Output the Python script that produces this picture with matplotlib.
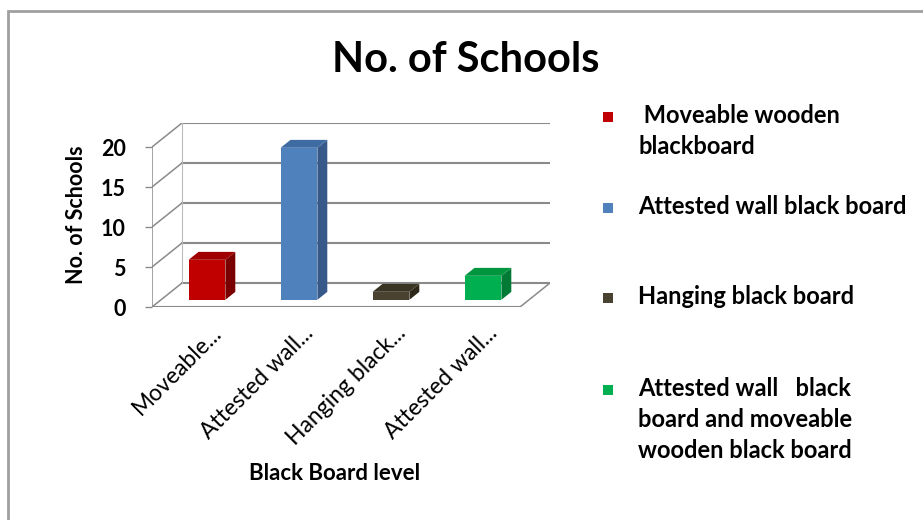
import matplotlib
matplotlib.use("Agg")
import matplotlib.pyplot as plt
from matplotlib.patches import Polygon, Rectangle

plt.rcParams['font.family'] = ['Lato', 'DejaVu Sans']

# data
categories = ["Moveable...", "Attested wall...", "Hanging black...", "Attested wall..."]
legend_labels = [" Moveable wooden\nblackboard",
                 "Attested wall black board",
                 "Hanging black board",
                 "Attested wall   black\nboard and moveable\nwooden black board"]
values = [5, 19, 1, 3]
yticks = [0, 5, 10, 15, 20]

front_colors = ["#C00000", "#4F81BD", "#4A4230", "#00B050"]
side_colors = ["#7A0000", "#36598A", "#2C2719", "#007A35"]
top_colors = ["#A00000", "#3F6BA3", "#3A3424", "#00953F"]

W, H = 923, 520
fig = plt.figure(figsize=(W / 100, H / 100), dpi=100)


def fx(px):
    return px / W


def fy(py):
    return 1 - py / H


# pseudo 3-D: depth offset in data units
DX, DY = 0.326, 3.0
x_lo, x_hi = -0.5, 3.5
y_top = 20


def proj(x, y, d):
    return (x + d * DX, y + d * DY)


ax_left, ax_right, ax_top, ax_bot = 152, 550, 123, 307
ax = fig.add_axes([fx(ax_left), fy(ax_bot), fx(ax_right - ax_left),
                   (ax_bot - ax_top) / H])
ax.set_xlim(x_lo, x_hi + DX)
ax.set_ylim(0, y_top + DY)
for s in ax.spines.values():
    s.set_visible(False)

grid_c = "#8A8A8A"
# back wall gridlines and side wall diagonals
for v in yticks:
    bx0, by0 = proj(x_lo, v, 1)
    bx1, by1 = proj(x_hi, v, 1)
    ax.plot([bx0, bx1], [by0, by1], color=grid_c, lw=1.5, zorder=1)
    ax.plot([x_lo, bx0], [v, by0], color=grid_c, lw=1.1, zorder=1)
# walls and floor outline
ax.plot([x_lo, x_lo], [0, y_top], color=grid_c, lw=1.1, zorder=1)
ax.plot([x_lo + DX, x_lo + DX], [DY, y_top + DY], color="#BBBBBB", lw=0.8, zorder=1)
ax.plot([x_lo, x_hi], [0, 0], color=grid_c, lw=1.5, zorder=1)
ax.plot([x_hi, x_hi + DX], [0, DY], color=grid_c, lw=1.1, zorder=1)

# bars
bw, d0, d1 = 0.4, 0.3, 0.63
for i, v in enumerate(values):
    x0, x1 = i - bw / 2, i + bw / 2
    front = [proj(x0, 0, d0), proj(x1, 0, d0), proj(x1, v, d0), proj(x0, v, d0)]
    side = [proj(x1, 0, d0), proj(x1, 0, d1), proj(x1, v, d1), proj(x1, v, d0)]
    top = [proj(x0, v, d0), proj(x1, v, d0), proj(x1, v, d1), proj(x0, v, d1)]
    ax.add_patch(Polygon(side, closed=True, fc=side_colors[i], ec="none", zorder=3))
    ax.add_patch(Polygon(top, closed=True, fc=top_colors[i], ec="none", zorder=3))
    ax.add_patch(Polygon(front, closed=True, fc=front_colors[i], ec="none", zorder=4))

ax.set_yticks(yticks)
ax.set_yticklabels([str(t) for t in yticks], fontsize=15.5, fontweight='bold')
ax.tick_params(axis='y', length=5, width=1, color=grid_c, pad=14)
ax.set_xticks([i + 0.14 for i in range(len(categories))])
ax.set_xticklabels(categories, rotation=45, ha='right', rotation_mode='anchor',
                   fontsize=16.5)
ax.tick_params(axis='x', length=0, pad=11)
ax.set_ylabel("No. of Schools", fontsize=15.5, fontweight='bold', labelpad=10)

fig.text(fx(335), fy(473), "Black Board level", fontsize=16, fontweight='bold',
         ha='center', va='center')
fig.text(fx(466), fy(60), "No. of Schools", fontsize=30, fontweight='bold',
         ha='center', va='center')

# legend
leg_y = [117, 208, 298, 390]
for lab, c, yy in zip(legend_labels, front_colors, leg_y):
    fig.patches.append(Rectangle((fx(603), fy(yy + 5)), fx(10), 10 / H,
                                 transform=fig.transFigure, fc=c, ec="none"))
    fig.text(fx(638), fy(yy - 13), lab, fontsize=17, fontweight='bold',
             ha='left', va='top', linespacing=1.42)

# chart frame
fig.patches.append(Rectangle((fx(8), fy(H + 20)), fx(W + 20), (H + 9) / H,
                             transform=fig.transFigure, fill=False,
                             ec="#A0A0A0", lw=2))

fig.savefig("out.png", dpi=100)
